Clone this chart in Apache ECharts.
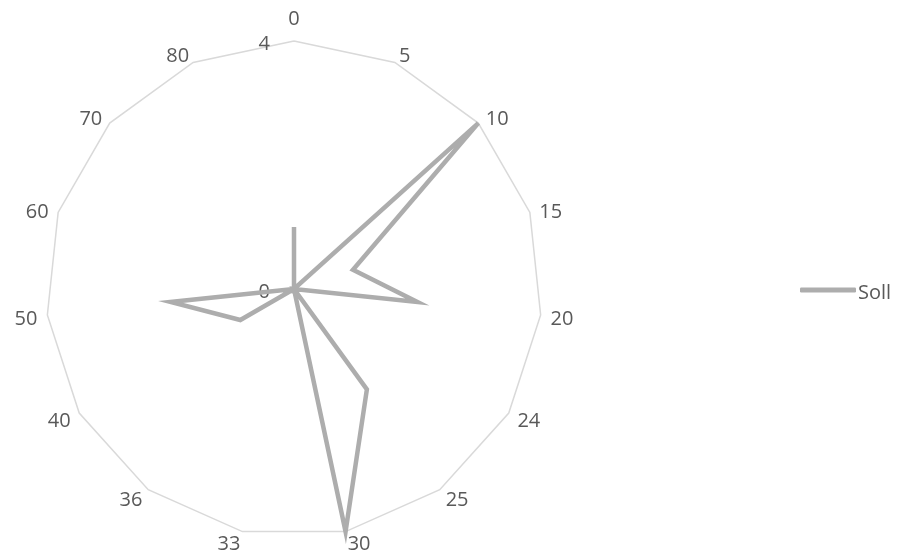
<!DOCTYPE html>
<html>
<head>
<meta charset="utf-8">
<script src="https://cdn.jsdelivr.net/npm/echarts@6/dist/echarts.min.js"></script>
<style>
  html, body { margin: 0; padding: 0; background: #ffffff; }
  #chart { width: 899px; height: 558px; }
</style>
</head>
<body>
<div id="chart"></div>
<script>
// Radar categories, listed clockwise from the top
const categories = ['0', '5', '10', '15', '20', '24', '25', '30', '33', '36', '40', '50', '60', '70', '80'];
const sollValues = [1, 0, 4, 1, 2, 0, 2, 4, 0, 0, 1, 2, 0, 0, 0];
const scaleMin = 0;
const scaleMax = 4;
const seriesName = 'Soll';

// ECharts lays indicators out counter-clockwise, so keep the first one on top
// and reverse the rest to run the categories clockwise.
function clockwise(arr) {
  return [arr[0]].concat(arr.slice(1).reverse());
}

const textColor = '#595959';
const font = '"Open Sans", "Noto Sans", sans-serif';
const fontSize = 20;
const textRich = { t: { color: textColor, fontFamily: font, fontSize: fontSize } };
function richText(s) { return '{t|' + s + '}'; }

const indicator = clockwise(categories).map(function (name, i) {
  const ind = { name: name, min: scaleMin, max: scaleMax };
  if (i === 0) {
    ind.nameGap = 12;
    // value labels only along the first (top) axis
    ind.axisLabel = {
      show: true,
      color: textColor,
      fontFamily: font,
      fontSize: fontSize,
      margin: 24,
      padding: [6, 0, 0, 0],
      formatter: function (v) { return richText(v); },
      rich: textRich
    };
  }
  return ind;
});

const chart = echarts.init(document.getElementById('chart'));
chart.setOption({
  animation: false,
  backgroundColor: '#ffffff',
  legend: {
    data: [seriesName],
    left: 795,
    top: 278,
    orient: 'vertical',
    icon: 'roundRect',
    itemWidth: 56,
    itemHeight: 5,
    formatter: function (n) { return richText(n); },
    textStyle: {
      color: textColor, fontFamily: font, fontSize: fontSize,
      padding: [6, 0, 0, -3],
      rich: textRich
    }
  },
  radar: {
    center: [294, 289],
    radius: 248,
    startAngle: 90,
    shape: 'polygon',
    splitNumber: 1,
    indicator: indicator,
    axisName: {
      color: textColor, fontFamily: font, fontSize: fontSize,
      padding: [6, 0, 0, 0],
      formatter: function (n) { return richText(n); },
      rich: textRich
    },
    nameGap: 10,
    axisLine: { show: false },
    axisTick: { show: false },
    axisLabel: { show: false },
    splitArea: { show: false },
    splitLine: { lineStyle: { color: '#d9d9d9', width: 1.5 } }
  },
  series: [{
    type: 'radar',
    name: seriesName,
    symbol: 'none',
    itemStyle: { color: '#adadad' },
    lineStyle: { color: '#adadad', width: 4.5, join: 'miter' },
    data: [{ value: clockwise(sollValues), name: seriesName }]
  }]
});
</script>
</body>
</html>
